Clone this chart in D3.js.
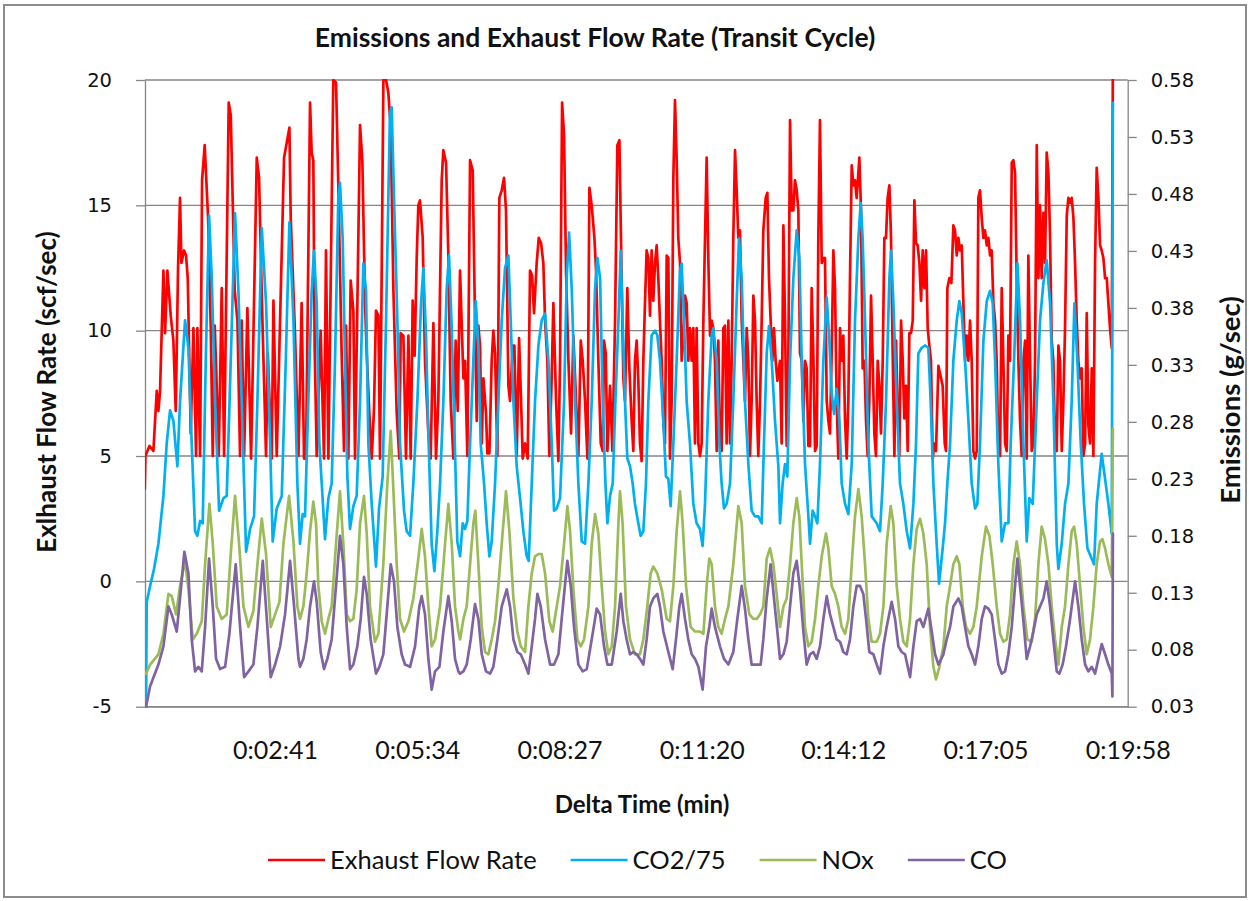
<!DOCTYPE html>
<html>
<head>
<meta charset="utf-8">
<script src="https://cdn.jsdelivr.net/npm/d3@7"></script>
<style>
  body { margin: 0; background: #fff; }
  svg { display: block; }
</style>
</head>
<body>
<svg id="chart"></svg>
<script>
// Emissions and Exhaust Flow Rate (Transit Cycle)
// values: [seconds, value]

// Exhaust flow rate, scf/sec (left axis)
const flowRate = [
  [2.7,3.7],[3.5,5.0],[8.4,5.4],[13.2,5.2],[17.3,7.6],[19.3,6.8],[21.3,7.6],[25.4,12.4],[27.4,9.9],[30.2,12.4],
  [34.3,10.6],[37.5,9.6],[40.4,6.8],[43.2,12.5],[45.6,15.3],[47.3,12.7],[50.5,13.2],[52.9,13.0],[55.0,12.1],[58.6,5.9],
  [61.9,10.1],[65.1,5.0],[66.7,10.1],[70.0,5.0],[72.4,16.0],[75.6,17.4],[79.7,14.5],[82.9,10.2],[85.4,5.0],[87.8,10.2],
  [90.2,7.8],[92.7,5.0],[96.3,11.7],[99.2,5.0],[104.8,19.1],[107.3,18.6],[112.1,11.6],[115.4,10.4],[118.6,5.0],[120.6,10.4],
  [123.5,5.0],[127.5,10.9],[132.0,4.9],[138.9,16.9],[141.7,16.1],[145.4,10.9],[150.2,5.0],[152.3,9.1],[157.1,4.9],[159.2,11.2],
  [163.2,5.0],[172.1,16.9],[178.6,18.1],[180.2,14.5],[185.5,9.8],[189.6,5.0],
  [193.5,11.1],[196.4,4.9],[198.8,4.9],[203.7,19.1],[205.7,17.1],[207.7,16.8],[209.3,9.4],[211.8,5.0],[216.6,10.0],[220.7,4.9],
  [223.1,13.2],[226.0,4.9],[232.0,20.0],[235.3,19.9],[238.1,15.8],[242.2,9.0],[245.0,5.2],[247.4,10.2],[250.3,4.9],[253.1,12.0],
  [256.4,10.8],[258.4,4.9],[264.5,18.2],[267.3,16.8],[270.6,11.1],[272.6,9.1],[275.8,6.7],[278.7,4.9],[281.5,6.9],[283.9,10.8],
  [286.8,10.6],[288.8,4.9],[292.9,20.0],[296.1,20.0],[298.9,19.5],[301.8,18.1],[305.0,11.7],[309.1,6.7],[312.3,4.9],[313.9,9.9],
  [317.2,9.8],[320.4,4.9],[323.3,9.8],[326.1,4.9],[328.5,11.2],[330.9,9.0],[333.4,12.9],[335.4,15.0],[337.4,15.2],[340.7,13.7],
  [343.5,8.8],[347.6,5.9],[350.4,4.9],[353.7,10.3],[356.9,4.9],[359.7,7.2],[363.8,16.0],[365.8,17.2],[369.1,16.7],[371.9,13.0],
  [374.7,7.2],[378.0,4.9],[380.8,9.6],[383.3,6.8],
  [386.1,12.4],[390.2,8.1],[392.2,8.8],[395.0,5.0],[398.3,16.8],[401.5,16.4],[404.3,10.4],[406.4,6.4],[408.4,10.2],[410.4,9.4],
  [412.5,5.5],[414.5,8.1],[417.7,6.7],[419.3,5.1],[421.8,5.1],[424.6,8.8],[426.6,10.0],[428.7,9.1],[431.5,5.0],[433.9,15.3],
  [436.8,15.6],[439.6,16.1],[442.0,14.8],[444.9,7.8],[446.9,7.2],[450.2,9.4],[452.2,9.4],[455.0,5.0],[457.9,9.7],[460.3,7.2],
  [462.3,4.9],[465.2,5.5],[468.4,4.9],[471.2,12.4],[473.7,12.2],[476.1,10.7],[479.3,12.7],[481.8,13.7],[484.6,13.5],[487.4,12.7],
  [489.5,10.4],[492.3,8.8],[494.7,5.0],[497.2,7.7],[499.6,11.1],[502.9,7.2],[505.7,4.8],[507.7,8.8],[510.2,19.1],[512.6,17.8],
  [515.0,12.4],[517.9,8.8],[521.1,5.9],[523.9,9.8],[527.2,7.2],[530.0,5.0],[532.9,9.6],[535.3,8.8],[538.1,7.2],[541.0,4.9],
  [543.4,15.7],[546.2,15.0],[549.5,13.7],[551.5,12.4],[554.3,8.8],[557.2,5.5],[559.6,5.2],[561.2,9.6],[563.3,9.1],[565.3,5.2],
  [568.5,7.8],[571.4,5.2],[574.6,10.4],[577.4,17.4],[579.9,17.6],
  [582.6,12.1],[584.7,8.1],[586.7,7.2],[589.5,11.7],[592.0,8.5],[594.8,6.4],[596.8,5.2],[598.8,8.8],[600.9,9.6],[602.9,8.0],
  [604.9,5.5],[606.9,4.8],[609.0,8.8],[611.0,11.1],[613.0,13.2],[615.1,12.9],[617.1,10.6],[619.1,13.2],[621.1,11.2],[623.2,12.7],
  [625.2,13.4],[627.2,12.1],[629.2,10.4],[631.3,8.8],[633.3,6.4],[635.3,5.5],[637.4,13.0],[639.4,12.9],[641.4,4.9],[643.4,7.2],
  [645.5,16.1],[647.5,19.2],[649.5,16.9],[651.5,13.7],[653.6,12.7],[655.6,8.8],[657.6,9.6],[659.7,11.4],[661.7,11.1],[663.7,8.8],
  [665.7,10.1],[667.8,8.8],[669.8,10.1],[671.8,5.5],[673.8,10.1],[675.9,5.5],[677.9,5.0],[679.9,5.5],[682.0,10.4],[684.0,13.7],
  [686.0,16.9],[688.0,12.9],[690.1,9.8],[692.1,10.4],[694.1,10.1],[696.1,8.8],[698.2,5.2],[700.2,9.6],[702.2,5.5],[704.2,5.2],
  [706.3,10.1],[708.3,10.2],[710.3,5.5],[712.4,10.4],[714.4,5.5],[716.4,8.8],[718.4,13.7],[720.5,17.2],[722.5,15.6],[724.5,13.7],
  [726.5,14.0],[728.6,10.4],[730.6,8.8],[732.6,7.2],[734.7,10.1],[736.7,8.8],[738.7,5.0],[740.7,7.2],[742.8,11.4],[744.8,10.4],
  [746.8,7.2],[748.8,5.0],[750.9,7.2],[752.9,10.4],[754.9,14.0],[757.8,15.3],[759.8,15.5],[761.8,12.1],[763.8,10.4],[765.9,8.8],
  [767.9,10.1],[769.9,8.8],[772.0,8.0],[774.0,8.5],
  [775.2,8.8],[777.2,5.5],[779.3,14.2],[781.3,10.4],[783.3,5.4],[785.3,8.8],[787.4,18.4],[789.4,14.8],[791.4,14.8],[793.4,16.0],
  [795.5,15.6],[797.5,14.8],[799.5,9.1],[801.6,8.8],[803.6,6.4],[805.6,8.8],[807.6,8.5],[809.7,5.4],[811.7,5.4],[813.7,11.7],
  [815.7,9.1],[817.8,5.2],[819.8,5.4],[821.8,13.7],[823.8,18.4],[825.9,12.7],[827.9,12.9],[829.9,12.9],[832.0,7.2],[834.0,6.4],
  [836.0,5.9],[838.0,9.1],[840.1,13.2],[842.1,11.7],[844.1,7.2],[846.1,4.9],[848.2,10.1],[850.2,8.8],[852.2,9.8],[854.3,6.4],
  [856.3,4.9],[858.3,7.2],[860.3,12.1],[862.4,16.6],[864.4,15.8],[866.4,16.0],[868.4,15.3],[871.7,16.9],[873.7,14.8],[875.7,8.5],
  [877.8,8.8],[879.8,6.4],[881.8,5.0],[883.8,7.2],[885.9,11.4],[887.9,8.8],[889.9,5.9],[891.9,5.0],[894.0,8.8],[896.0,7.8],
  [898.0,5.9],[900.1,8.8],[902.1,13.7],[904.1,13.7],[906.1,15.3],[908.2,15.8],[910.2,13.7],[912.2,9.1],[914.3,5.0],[916.3,9.6],
  [918.3,6.8],[920.3,5.0],[922.4,10.4],[924.4,8.8],[926.4,6.5],[928.4,7.8],[930.5,5.2],[932.5,9.9],[934.5,9.9],[936.6,10.4],
  [938.6,15.2],[940.6,13.5],[942.6,13.4],[944.7,12.7],[946.7,11.2],[948.7,13.2],[950.7,11.7],[952.8,13.2],[954.8,10.1],[956.8,9.4],
  [958.8,8.8],[960.9,4.9],[962.9,5.5],[964.9,5.2],[967.8,8.6],
  [973.0,7.8],[975.5,5.5],[977.1,5.2],[978.7,11.7],[981.2,12.1],[983.6,11.9],[986.0,14.2],[988.0,14.0],[990.1,13.0],[992.1,13.7],
  [994.1,13.2],[996.2,13.4],[998.2,11.1],[1000.2,8.8],[1002.2,9.8],[1004.3,8.8],[1006.3,10.4],[1008.3,8.8],[1010.3,5.2],[1012.4,4.9],
  [1014.4,5.2],[1016.4,15.3],[1018.4,15.6],[1020.5,14.5],[1022.5,13.7],[1024.5,14.0],[1026.6,13.4],[1028.6,13.7],[1030.6,13.0],[1032.6,13.2],
  [1034.7,11.1],[1036.7,10.4],[1038.7,8.8],[1040.7,5.2],[1042.8,5.0],[1044.8,11.7],[1046.8,8.8],[1048.9,5.5],[1050.9,5.2],[1052.9,9.8],
  [1054.9,8.8],[1057.0,16.7],[1059.0,16.8],[1061.0,16.3],[1063.0,12.1],[1065.1,8.8],[1067.1,6.4],[1069.1,5.0],[1071.2,8.8],[1073.2,9.6],
  [1075.2,4.9],[1077.2,13.0],[1079.3,8.8],[1081.3,5.2],[1083.3,5.5],[1085.3,8.8],[1087.4,17.4],[1089.4,12.1],[1091.4,15.0],[1093.4,12.1],
  [1095.5,14.7],[1097.5,12.7],[1099.5,17.1],[1101.6,16.3],[1103.6,13.7],[1105.6,9.6],[1107.6,8.8],[1109.7,5.5],[1111.7,5.2],[1113.7,9.4],
  [1115.7,8.8],[1117.8,5.2],[1119.8,7.2],[1121.8,10.1],[1123.9,14.6],[1125.9,15.3],[1127.9,15.1],[1129.9,15.3],[1132.0,14.5],[1134.0,12.7],
  [1136.0,10.4],[1138.0,8.8],[1140.1,8.1],[1142.1,8.5],[1144.1,5.0],[1146.2,5.5],[1148.2,10.7],[1150.2,6.2],[1152.2,5.5],[1154.3,8.5],
  [1156.3,5.0],[1158.3,12.7],[1160.3,16.5],[1162.4,15.3],[1164.4,13.4],[1166.4,13.2],[1168.4,12.9],[1170.5,12.1],[1172.5,12.1],[1174.5,11.1],
  [1176.5,10.1],[1178.6,9.3],[1180.0,21.0]
];

// CO2 / 75, g/sec (right axis)
const co2 = [
  [4.3,0.030],[5.1,0.122],[9.2,0.136],[14.0,0.151],[19.3,0.173],[25.4,0.215],[29.4,0.261],[33.5,0.290],[37.5,0.281],[42.4,0.241],
  [45.6,0.298],[51.7,0.369],[55.8,0.345],[59.8,0.261],[63.9,0.184],[66.7,0.180],[70.0,0.193],[73.2,0.191],[76.9,0.334],[80.9,0.461],
  [84.2,0.406],[88.2,0.298],[93.1,0.202],[98.4,0.213],[102.4,0.215],[107.3,0.334],[112.5,0.463],[116.6,0.395],[120.6,0.298],[125.9,0.166],
  [130.8,0.186],[135.6,0.197],[139.7,0.298],[145.0,0.450],[150.2,0.384],[155.1,0.261],[158.3,0.175],[163.2,0.204],[169.3,0.215],[174.2,0.334],
  [178.6,0.455],[183.5,0.369],[188.3,0.226],
  [191.5,0.173],[194.7,0.199],[197.6,0.197],[201.6,0.298],[205.7,0.395],[208.5,0.430],[211.8,0.384],[215.0,0.261],[217.9,0.226],[221.9,0.177],
  [226.0,0.213],[230.0,0.226],[234.1,0.334],[238.1,0.477],[240.1,0.490],[243.4,0.441],[246.2,0.334],[249.1,0.232],[252.3,0.186],[256.4,0.206],
  [260.4,0.215],[264.5,0.298],[268.5,0.419],[271.8,0.395],[274.6,0.261],[278.7,0.208],[283.9,0.153],[287.6,0.204],[292.0,0.232],[296.1,0.369],
  [300.9,0.551],[303.0,0.556],[305.8,0.477],[309.9,0.369],[313.1,0.261],[318.0,0.202],[321.2,0.184],[325.3,0.180],[329.3,0.226],[334.2,0.298],
  [338.7,0.384],[341.5,0.415],[344.7,0.356],[347.6,0.270],[351.6,0.173],[354.9,0.149],[358.5,0.184],[361.8,0.226],[365.8,0.298],[369.9,0.397],
  [372.7,0.426],[376.0,0.362],[380.0,0.254],[382.8,0.175],
  [386.1,0.162],[389.3,0.191],[392.2,0.186],[395.0,0.193],[398.3,0.261],[402.3,0.334],[405.2,0.386],[408.4,0.347],[411.2,0.261],[415.3,0.226],
  [418.5,0.191],[421.8,0.162],[424.6,0.175],[428.7,0.226],[432.7,0.298],[436.8,0.369],[440.8,0.415],[444.9,0.426],[447.7,0.369],[451.0,0.298],
  [455.0,0.241],[459.1,0.213],[463.1,0.184],[467.2,0.162],[469.6,0.158],[473.3,0.226],[477.3,0.298],[481.4,0.347],[485.4,0.369],[489.5,0.375],
  [493.5,0.334],[497.6,0.261],[500.4,0.202],[503.7,0.204],[507.7,0.213],[512.6,0.298],[515.8,0.406],[518.7,0.446],[521.9,0.397],[526.0,0.298],
  [530.0,0.226],[534.1,0.175],[538.1,0.173],[542.2,0.226],[546.2,0.298],[550.3,0.397],[553.1,0.424],[556.4,0.406],[559.6,0.298],[562.9,0.226],
  [565.3,0.191],[568.5,0.215],[571.8,0.226],[575.0,0.298],[578.7,0.369],
  [581.5,0.430],[583.8,0.369],[586.7,0.298],[589.5,0.248],[592.8,0.241],[596.0,0.226],[598.8,0.208],[602.9,0.191],[605.7,0.180],[609.0,0.184],
  [612.2,0.226],[615.1,0.298],[619.1,0.356],[623.2,0.360],[626.0,0.356],[629.2,0.334],[633.3,0.281],[636.5,0.232],[639.4,0.230],[642.2,0.206],
  [645.5,0.261],[649.5,0.334],[653.6,0.413],[655.6,0.419],[658.4,0.369],[661.7,0.298],[665.7,0.261],[669.8,0.208],[673.8,0.191],[677.9,0.186],
  [681.1,0.171],[684.0,0.208],[688.0,0.298],[692.1,0.356],[694.1,0.362],[698.2,0.334],[701.4,0.261],[704.2,0.226],[707.1,0.204],[710.3,0.208],
  [714.4,0.226],[718.4,0.298],[722.5,0.386],[725.3,0.441],[728.6,0.406],[732.6,0.298],[736.7,0.243],[740.7,0.202],[744.8,0.197],[748.8,0.197],
  [752.9,0.191],[755.7,0.261],[759.0,0.340],[761.8,0.364],[765.1,0.334],[769.1,0.281],[773.2,0.241],
  [775.2,0.191],[778.4,0.226],[781.3,0.243],[784.1,0.232],[787.4,0.334],[791.4,0.406],[795.5,0.448],[798.7,0.424],[801.6,0.334],[805.6,0.243],
  [809.7,0.197],[811.7,0.173],[814.9,0.202],[817.8,0.197],[820.6,0.191],[823.8,0.243],[827.9,0.334],[832.0,0.389],[835.2,0.351],[838.0,0.305],
  [840.9,0.287],[844.1,0.309],[847.4,0.281],[850.2,0.226],[854.3,0.208],[858.3,0.199],[862.4,0.243],[866.4,0.369],[870.5,0.441],[873.3,0.472],
  [875.7,0.441],[878.6,0.369],[882.6,0.261],[886.7,0.197],[892.8,0.191],[896.8,0.184],[900.1,0.226],[904.1,0.298],[908.2,0.406],[910.2,0.430],
  [913.0,0.386],[917.1,0.298],[921.1,0.226],[925.2,0.208],[929.3,0.184],[933.3,0.169],[937.4,0.208],[940.6,0.261],[943.4,0.340],[947.5,0.345],
  [951.5,0.347],[955.6,0.345],[958.4,0.298],[961.7,0.226],[965.7,0.173],[968.6,0.138],
  [973.0,0.169],[975.9,0.191],[978.7,0.226],[982.0,0.261],[986.0,0.334],[990.1,0.369],[993.3,0.386],[996.2,0.375],[1000.2,0.334],[1004.3,0.281],
  [1008.3,0.226],[1012.4,0.204],[1015.2,0.208],[1018.4,0.261],[1022.5,0.351],[1026.6,0.386],[1030.6,0.395],[1033.9,0.384],[1036.7,0.334],[1040.7,0.243],
  [1044.8,0.175],[1048.9,0.191],[1052.9,0.191],[1055.7,0.261],[1059.8,0.334],[1063.9,0.419],[1067.1,0.369],[1071.2,0.261],[1075.2,0.175],[1078.4,0.213],
  [1082.5,0.208],[1087.4,0.298],[1091.4,0.369],[1095.5,0.402],[1099.5,0.422],[1103.6,0.384],[1107.6,0.298],[1111.7,0.173],[1113.7,0.151],[1117.8,0.173],
  [1121.8,0.208],[1125.9,0.226],[1129.9,0.298],[1133.2,0.384],[1136.8,0.334],[1140.9,0.261],[1144.9,0.208],[1149.0,0.169],[1153.0,0.162],[1157.1,0.155],
  [1160.3,0.208],[1163.6,0.232],[1166.4,0.252],[1170.5,0.230],[1174.5,0.208],[1178.6,0.182],[1180.0,0.560]
];

// NOx, g/sec (right axis)
const nox = [
  [4.3,0.059],[9.2,0.067],[19.3,0.076],[25.4,0.094],[31.5,0.129],[35.5,0.127],[40.8,0.111],[45.6,0.136],[51.7,0.158],[55.8,0.133],
  [61.1,0.089],[65.9,0.094],[72.0,0.105],[76.1,0.155],[81.3,0.208],[85.4,0.173],[90.2,0.118],[96.3,0.107],[102.4,0.111],[107.3,0.164],
  [112.5,0.215],[117.4,0.173],[122.7,0.118],[128.8,0.100],[134.8,0.114],[139.7,0.155],[145.0,0.195],[150.2,0.164],[155.9,0.100],[161.2,0.111],
  [166.5,0.122],[171.3,0.173],[178.2,0.215],[183.5,0.175],[188.3,0.118],
  [191.5,0.107],[195.6,0.118],[199.6,0.147],[203.7,0.184],[207.7,0.210],[211.0,0.191],[213.8,0.136],[217.9,0.105],[221.9,0.094],[226.0,0.107],
  [230.0,0.118],[235.3,0.173],[240.1,0.219],[244.2,0.173],[248.3,0.111],[252.3,0.105],[256.4,0.107],[260.4,0.133],[264.5,0.191],[269.3,0.215],
  [272.6,0.182],[276.6,0.118],[282.7,0.087],[286.8,0.094],[292.8,0.155],[297.7,0.226],[301.8,0.272],[305.0,0.221],[309.1,0.155],[313.1,0.107],
  [318.0,0.096],[323.3,0.105],[329.3,0.125],[335.4,0.160],[339.5,0.186],[343.5,0.162],[347.6,0.118],[351.6,0.083],[355.7,0.089],[361.8,0.118],
  [367.9,0.173],[371.9,0.208],[376.0,0.173],[380.0,0.118],[384.1,0.096],
  [386.1,0.089],[390.2,0.107],[394.2,0.118],[398.3,0.155],[402.3,0.191],[404.7,0.202],[408.4,0.155],[412.5,0.100],[416.5,0.078],[420.6,0.076],
  [424.6,0.089],[428.7,0.105],[432.7,0.136],[436.8,0.173],[442.0,0.219],[446.1,0.184],[451.0,0.125],[455.8,0.096],[459.9,0.083],[465.2,0.078],
  [469.2,0.118],[473.3,0.147],[477.3,0.162],[481.4,0.164],[485.4,0.164],[489.5,0.147],[494.7,0.105],[498.8,0.096],[503.7,0.118],[507.7,0.136],
  [512.6,0.173],[516.6,0.206],[519.9,0.184],[523.9,0.133],[528.8,0.089],[532.9,0.083],[536.9,0.089],[542.2,0.118],[546.2,0.173],[550.3,0.199],
  [554.3,0.182],[558.4,0.136],[562.5,0.096],[566.5,0.076],[570.6,0.083],[574.6,0.118],[578.7,0.191],
  [580.6,0.219],[583.8,0.191],[587.9,0.118],[592.8,0.089],[598.8,0.076],[604.9,0.076],[609.0,0.089],[613.8,0.118],[617.9,0.147],[621.1,0.153],
  [626.0,0.147],[631.3,0.133],[637.4,0.107],[641.4,0.105],[645.5,0.136],[649.5,0.184],[653.6,0.219],[656.8,0.191],[660.9,0.136],[666.5,0.100],
  [671.8,0.096],[677.9,0.096],[682.0,0.094],[686.0,0.136],[689.2,0.160],[692.1,0.155],[696.1,0.118],[700.2,0.100],[704.2,0.094],[708.3,0.107],
  [712.4,0.118],[718.4,0.155],[724.5,0.206],[728.6,0.191],[732.6,0.136],[737.9,0.111],[742.8,0.107],[746.8,0.107],[750.9,0.111],[754.9,0.118],
  [759.0,0.160],[763.0,0.169],[767.1,0.155],[771.1,0.129],
  [775.2,0.100],[779.3,0.118],[783.3,0.125],[787.4,0.155],[791.4,0.191],[795.5,0.213],[798.7,0.197],[801.6,0.155],[805.6,0.100],[809.7,0.083],
  [813.7,0.087],[817.8,0.107],[821.8,0.136],[825.9,0.162],[831.1,0.182],[834.0,0.169],[838.0,0.136],[842.1,0.129],[846.1,0.118],[850.2,0.100],
  [854.3,0.094],[858.3,0.107],[862.4,0.155],[866.4,0.197],[870.5,0.221],[874.5,0.197],[878.6,0.155],[882.6,0.107],[886.7,0.087],[892.8,0.087],
  [896.8,0.094],[900.9,0.118],[904.9,0.173],[909.8,0.206],[913.0,0.191],[917.1,0.136],[921.1,0.107],[925.2,0.087],[929.3,0.083],[933.3,0.107],
  [937.4,0.155],[941.4,0.186],[945.5,0.195],[949.5,0.182],[953.6,0.155],[957.6,0.100],[961.7,0.065],[964.9,0.054],[969.0,0.065],
  [973.9,0.083],[977.9,0.118],[982.0,0.136],[986.0,0.155],[990.1,0.162],[993.3,0.155],[997.4,0.118],[1001.4,0.100],[1006.3,0.094],[1010.3,0.100],
  [1014.4,0.118],[1020.5,0.162],[1025.7,0.188],[1029.8,0.180],[1033.9,0.155],[1038.7,0.118],[1042.8,0.094],[1046.8,0.087],[1050.9,0.089],[1054.9,0.111],
  [1059.0,0.155],[1063.0,0.175],[1067.1,0.155],[1071.2,0.118],[1076.0,0.089],[1081.3,0.087],[1085.3,0.107],[1089.4,0.155],[1093.4,0.188],[1097.5,0.177],
  [1101.6,0.155],[1105.6,0.118],[1109.7,0.089],[1113.7,0.067],[1117.8,0.100],[1121.8,0.118],[1125.9,0.155],[1129.9,0.184],[1132.8,0.188],[1136.0,0.173],
  [1140.1,0.136],[1144.1,0.100],[1148.2,0.076],[1152.2,0.089],[1156.3,0.118],[1160.3,0.155],[1164.4,0.175],[1167.2,0.177],[1170.5,0.169],[1174.5,0.155],
  [1178.6,0.144],[1180.0,0.274]
];

// CO, g/sec (right axis)
const co = [
  [4.3,0.030],[9.2,0.048],[19.3,0.067],[25.4,0.083],[31.5,0.118],[35.5,0.111],[41.6,0.096],[45.6,0.125],[50.9,0.166],[55.8,0.147],
  [59.8,0.089],[63.9,0.061],[67.9,0.065],[72.0,0.061],[76.1,0.100],[80.9,0.160],[85.4,0.118],[89.4,0.072],[94.3,0.063],[100.4,0.065],
  [105.6,0.094],[113.3,0.155],[118.6,0.100],[123.5,0.056],[128.8,0.061],[134.8,0.067],[139.7,0.100],[146.2,0.158],[151.1,0.107],[155.9,0.056],
  [161.2,0.067],[167.3,0.083],[173.3,0.111],[179.4,0.158],[184.3,0.118],[189.6,0.072],
  [191.5,0.065],[195.6,0.072],[199.6,0.089],[203.7,0.118],[208.5,0.140],[211.8,0.122],[216.6,0.078],[220.7,0.063],[224.7,0.072],[230.0,0.089],
  [235.3,0.136],[240.1,0.180],[244.2,0.155],[248.3,0.100],[252.3,0.063],[256.4,0.067],[261.2,0.083],[265.3,0.107],[269.3,0.144],[272.6,0.129],
  [277.4,0.089],[283.9,0.059],[288.0,0.065],[292.8,0.076],[297.7,0.118],[301.8,0.155],[305.8,0.140],[309.9,0.100],[315.1,0.076],[319.2,0.067],
  [325.3,0.065],[331.4,0.083],[336.6,0.118],[339.5,0.127],[343.5,0.111],[347.6,0.072],[351.6,0.045],[355.7,0.061],[361.0,0.065],[365.8,0.096],
  [371.9,0.127],[376.0,0.105],[380.0,0.072],[384.1,0.061],
  [386.1,0.059],[390.2,0.061],[394.2,0.067],[399.1,0.089],[404.3,0.120],[408.4,0.107],[412.5,0.076],[417.7,0.061],[422.6,0.059],[426.6,0.065],
  [431.5,0.089],[436.8,0.118],[442.9,0.133],[446.9,0.118],[451.0,0.089],[455.8,0.078],[459.9,0.076],[465.2,0.067],[469.2,0.059],[473.3,0.083],
  [477.3,0.107],[480.2,0.129],[484.2,0.118],[489.5,0.089],[495.6,0.067],[500.4,0.067],[505.7,0.076],[509.7,0.107],[516.6,0.158],[520.7,0.136],
  [524.7,0.100],[530.0,0.067],[535.3,0.061],[540.2,0.063],[546.2,0.089],[552.3,0.116],[556.4,0.111],[561.2,0.083],[565.3,0.067],[570.6,0.067],
  [576.6,0.096],
  [581.5,0.129],[584.7,0.105],[588.7,0.089],[592.8,0.076],[596.8,0.078],[600.9,0.076],[604.9,0.072],[609.0,0.067],[613.0,0.089],[617.1,0.118],
  [621.1,0.125],[626.0,0.129],[629.2,0.118],[633.3,0.096],[639.4,0.078],[644.7,0.063],[648.7,0.089],[652.8,0.118],[655.6,0.129],[659.7,0.107],
  [663.7,0.089],[667.8,0.076],[671.8,0.072],[675.9,0.065],[681.1,0.045],[685.2,0.083],[689.2,0.100],[692.1,0.116],[696.1,0.100],[702.2,0.083],
  [707.1,0.072],[712.4,0.067],[718.4,0.078],[723.3,0.107],[728.6,0.136],[732.6,0.116],[736.7,0.089],[740.7,0.067],[746.8,0.067],[751.7,0.067],
  [754.9,0.089],[759.0,0.125],[763.8,0.155],[767.9,0.125],[772.0,0.096],
  [775.2,0.072],[779.3,0.076],[783.3,0.087],[787.4,0.118],[791.4,0.147],[795.5,0.158],[799.5,0.133],[803.6,0.096],[807.6,0.067],[811.7,0.076],
  [815.7,0.078],[819.8,0.072],[823.8,0.083],[827.9,0.107],[832.0,0.127],[836.0,0.111],[840.1,0.100],[844.1,0.089],[848.2,0.087],[852.2,0.078],
  [856.3,0.076],[860.3,0.089],[864.4,0.118],[868.4,0.136],[872.5,0.136],[876.5,0.129],[879.8,0.107],[883.8,0.078],[888.7,0.076],[892.8,0.067],
  [896.8,0.059],[900.9,0.083],[904.9,0.100],[911.0,0.122],[915.1,0.107],[919.1,0.083],[923.2,0.078],[927.2,0.076],[933.3,0.056],[937.4,0.083],
  [941.4,0.105],[945.5,0.107],[949.5,0.100],[955.6,0.116],[959.7,0.096],[963.7,0.076],[967.8,0.067],
  [973.9,0.076],[977.9,0.089],[982.0,0.100],[986.0,0.118],[992.1,0.125],[996.2,0.118],[1000.2,0.100],[1004.3,0.083],[1008.3,0.076],[1012.4,0.067],
  [1016.4,0.083],[1020.5,0.107],[1024.5,0.118],[1028.6,0.116],[1032.6,0.111],[1036.7,0.089],[1040.7,0.067],[1044.8,0.059],[1048.9,0.061],[1052.9,0.076],
  [1057.0,0.100],[1061.0,0.136],[1063.9,0.160],[1067.1,0.136],[1071.2,0.105],[1075.2,0.072],[1079.3,0.083],[1083.3,0.096],[1087.4,0.111],[1091.4,0.118],
  [1095.5,0.125],[1099.5,0.140],[1103.6,0.118],[1107.6,0.089],[1111.7,0.061],[1114.9,0.059],[1118.9,0.067],[1123.0,0.083],[1127.9,0.107],[1134.0,0.140],
  [1138.0,0.118],[1142.1,0.089],[1146.2,0.067],[1150.2,0.061],[1154.3,0.065],[1158.3,0.059],[1162.4,0.072],[1166.4,0.085],[1170.5,0.076],[1174.5,0.067],
  [1178.6,0.059],[1179.4,0.039],[1180.0,0.182]
];

// axis ticks
const xTickSeconds = [161, 334, 507, 680, 852, 1025, 1198];
const xTickLabels = ["0:02:41", "0:05:34", "0:08:27", "0:11:20", "0:14:12", "0:17:05", "0:19:58"];
const leftTicks = [-5, 0, 5, 10, 15, 20];
const rightTicks = [0.03, 0.08, 0.13, 0.18, 0.23, 0.28, 0.33, 0.38, 0.43, 0.48, 0.53, 0.58];

const seriesNames = ["Exhaust Flow Rate", "CO2/75", "NOx", "CO"];
const seriesColors = ["#ff0000", "#00b0f0", "#9bbb59", "#8064a2"];

// Config
const width = 1249;
const height = 901;
const plot = { left: 145, right: 1127.7, top: 80, bottom: 706.7 };
const gridColor = "#868686";
const numFont = "'DejaVu Sans', Verdana, sans-serif";
const textFont = "Lato, 'Open Sans', sans-serif";

const svg = d3.select("#chart")
  .attr("width", width)
  .attr("height", height)
  .attr("viewBox", [0, 0, width, height]);

svg.append("rect")
  .attr("width", width).attr("height", height)
  .attr("fill", "#fff");

// chart border
svg.append("rect")
  .attr("x", 4).attr("y", 5)
  .attr("width", width - 7).attr("height", height - 9)
  .attr("fill", "none")
  .attr("stroke", "#8c8c8c")
  .attr("stroke-width", 2);

// Scales
const x = d3.scaleLinear().domain([3, 1198]).range([plot.left, plot.right]);
const yLeft = d3.scaleLinear().domain([-5, 20]).range([plot.bottom, plot.top]);
const yRight = d3.scaleLinear().domain([0.03, 0.58]).range([plot.bottom, plot.top]);

// gridlines
svg.append("g")
  .selectAll("line")
  .data(leftTicks)
  .join("line")
  .attr("x1", plot.left).attr("x2", plot.right)
  .attr("y1", d => yLeft(d)).attr("y2", d => yLeft(d))
  .attr("stroke", gridColor)
  .attr("stroke-width", 1.3);

// Axes
function styleAxis(g, fontFamily, fontSize) {
  g.select(".domain").attr("stroke", gridColor).attr("stroke-width", 1.3);
  g.selectAll(".tick line").attr("stroke", gridColor).attr("stroke-width", 1.3);
  g.selectAll(".tick text")
    .attr("fill", "#111")
    .attr("font-family", fontFamily)
    .attr("font-size", fontSize);
}

svg.append("g")
  .attr("transform", `translate(${plot.left},0)`)
  .call(d3.axisLeft(yLeft).tickValues(leftTicks).tickFormat(d => String(d))
    .tickSize(9).tickSizeOuter(0).tickPadding(24))
  .call(g => styleAxis(g, numFont, 19.5));

svg.append("g")
  .attr("transform", `translate(${plot.right},0)`)
  .call(d3.axisRight(yRight).tickValues(rightTicks).tickFormat(d3.format(".2f"))
    .tickSize(9).tickSizeOuter(0).tickPadding(14))
  .call(g => styleAxis(g, numFont, 19.5));

svg.append("g")
  .attr("transform", `translate(0,${plot.bottom})`)
  .call(d3.axisBottom(x).tickValues(xTickSeconds)
    .tickFormat((d, i) => xTickLabels[i])
    .tickSize(0).tickSizeOuter(0).tickPadding(35))
  .call(g => styleAxis(g, textFont, 25));

// Lines
const clip = svg.append("defs").append("clipPath").attr("id", "plot-clip");
clip.append("rect")
  .attr("x", plot.left).attr("y", plot.top - 1)
  .attr("width", plot.right - plot.left)
  .attr("height", plot.bottom - plot.top + 2);

const lineLeft = d3.line().x(d => x(d[0])).y(d => yLeft(d[1]));
const lineRight = d3.line().x(d => x(d[0])).y(d => yRight(d[1]));

const linesG = svg.append("g").attr("clip-path", "url(#plot-clip)");
const seriesData = [
  { values: flowRate, gen: lineLeft },
  { values: co2, gen: lineRight },
  { values: nox, gen: lineRight },
  { values: co, gen: lineRight }
];
seriesData.forEach((s, i) => {
  linesG.append("path")
    .attr("d", s.gen(s.values))
    .attr("fill", "none")
    .attr("stroke", seriesColors[i])
    .attr("stroke-width", 2.7)
    .attr("stroke-linejoin", "round")
    .attr("stroke-linecap", "round");
});

// Titles
svg.append("text")
  .attr("x", 595).attr("y", 47)
  .attr("text-anchor", "middle")
  .attr("font-family", textFont)
  .attr("font-weight", "bold")
  .attr("font-size", 26.5)
  .attr("fill", "#111")
  .text("Emissions and Exhaust Flow Rate (Transit Cycle)");

svg.append("text")
  .attr("transform", "translate(56,392) rotate(-90)")
  .attr("text-anchor", "middle")
  .attr("font-family", textFont)
  .attr("font-weight", "bold")
  .attr("font-size", 26)
  .attr("fill", "#111")
  .text("Exlhaust Flow Rate (scf/sec)");

svg.append("text")
  .attr("transform", "translate(1240,400) rotate(-90)")
  .attr("text-anchor", "middle")
  .attr("font-family", textFont)
  .attr("font-weight", "bold")
  .attr("font-size", 27.5)
  .attr("fill", "#111")
  .text("Emissions (g/sec)");

svg.append("text")
  .attr("x", 642).attr("y", 813)
  .attr("text-anchor", "middle")
  .attr("font-family", textFont)
  .attr("font-weight", "bold")
  .attr("font-size", 24)
  .attr("fill", "#111")
  .text("Delta Time (min)");

// Legend
const legendY = 860;
const swatch = 57;
const legend = svg.append("g");
let cursor = 268;
seriesNames.forEach((name, i) => {
  legend.append("line")
    .attr("x1", cursor).attr("x2", cursor + swatch)
    .attr("y1", legendY).attr("y2", legendY)
    .attr("stroke", seriesColors[i])
    .attr("stroke-width", 2.7);
  const t = legend.append("text")
    .attr("x", cursor + swatch + 5).attr("y", legendY + 9)
    .attr("font-family", textFont)
    .attr("font-size", 25.5)
    .attr("fill", "#111")
    .text(name);
  cursor += swatch + 5 + t.node().getComputedTextLength() + 34;
});
</script>
</body>
</html>
